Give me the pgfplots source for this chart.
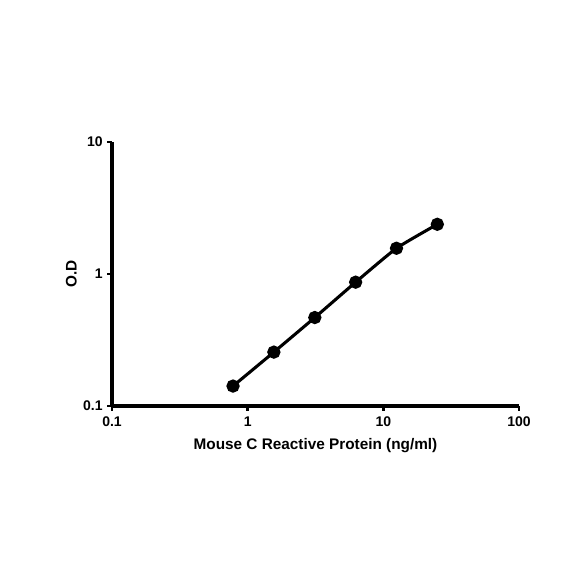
\documentclass[border=0pt]{standalone}
\usepackage{fontspec}
\setmainfont{Liberation Sans}
\usepackage{pgfplots}
\pgfplotsset{compat=1.18}
\begin{document}
\begin{tikzpicture}
\useasboundingbox (0pt,0pt) rectangle (438pt,438pt);
\begin{axis}[
  at={(84pt,133.5pt)}, anchor=south west,
  scale only axis, width=305.25pt, height=198pt,
  xmode=log, ymode=log,
  xmin=0.1, xmax=100, ymin=0.1, ymax=10,
  axis x line*=bottom, axis y line*=left,
  axis line style={line width=2.4pt, -},
  xtick={0.1,1,10,100}, ytick={0.1,1,10},
  xticklabels={0.1,1,10,100}, yticklabels={0.1,1,10},
  minor tick num=0,
  tick style={line width=2pt, black},
  tick align=outside, major tick length=3.5pt,
  minor tick length=0pt,
  ticklabel style={font=\fontsize{10.5}{12}\selectfont\bfseries},
  xticklabel style={yshift=-1pt},
  xlabel={Mouse C Reactive Protein (ng/ml)},
  ylabel={O.D},
  label style={font=\fontsize{11.5}{13}\selectfont\bfseries},
  xlabel style={yshift=-2pt},
  ylabel style={yshift=-2pt},
  clip=false,
]
\addplot[black, line width=2.3pt, smooth, tension=0.3, mark=*, mark size=3.8pt]
coordinates {(0.78,0.1416) (1.56,0.256) (3.125,0.468) (6.25,0.867) (12.5,1.567) (25,2.38)};
\end{axis}
\end{tikzpicture}
\end{document}
